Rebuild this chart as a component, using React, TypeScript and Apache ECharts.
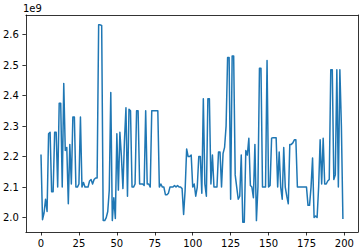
import React, { useEffect, useRef } from "react";
import * as echarts from "echarts";

// values in units of 1e9
const values: number[] = [
  2.207, 1.993, 2.015, 2.06, 2.02, 2.275, 2.28, 2.085, 2.085, 2.28,
  2.28, 2.10, 2.375, 2.375, 2.10, 2.44, 2.22, 2.23, 2.045, 2.24,
  2.11, 2.33, 2.33, 2.10, 2.10, 2.11, 2.33, 2.10, 2.115, 2.10,
  2.10, 2.10, 2.12, 2.125, 2.11, 2.125, 2.13, 2.13, 2.632, 2.632,
  2.63, 1.99, 1.99, 2.0, 2.02, 2.09, 2.41, 1.99, 2.065, 1.997,
  2.275, 2.09, 2.28, 2.20, 2.095, 2.25, 2.36, 2.07, 2.355, 2.35,
  2.10, 2.10, 2.11, 2.35, 2.35, 2.11, 2.11, 2.11, 2.105, 2.35,
  2.11, 2.11, 2.10, 2.35, 2.35, 2.35, 2.35, 2.35, 2.10, 2.11,
  2.10, 2.10, 2.075, 2.075, 2.08, 2.10, 2.10, 2.10, 2.105, 2.10,
  2.105, 2.10, 2.10, 2.095, 2.01, 2.09, 2.225, 2.20, 2.20, 2.205,
  2.10, 2.11, 2.07, 2.10, 2.20, 2.20, 2.08, 2.39, 2.11, 2.07,
  2.39, 2.39, 2.11, 2.205, 2.10, 2.10, 2.10, 2.215, 2.215, 2.10,
  2.21, 2.23, 2.30, 2.525, 2.525, 2.06, 2.53, 2.53, 2.14, 2.10,
  2.06, 2.07, 2.205, 1.985, 1.985, 2.22, 2.205, 2.26, 2.105, 2.10,
  2.065, 2.24, 1.99, 2.10, 2.49, 2.49, 2.10, 2.10, 2.10, 2.515,
  2.10, 2.105, 2.26, 2.262, 2.262, 2.262, 2.10, 2.215, 2.10, 2.06,
  2.23, 2.10, 2.07, 2.045, 2.24, 2.24, 2.245, 2.255, 2.255, 2.10,
  2.10, 2.10, 2.10, 2.10, 2.10, 2.10, 2.04, 2.04, 2.10, 2.195,
  2.00, 2.005, 2.00, 2.10, 2.255, 2.11, 2.26, 2.11, 2.11, 2.12,
  2.125, 2.485, 2.485, 2.125, 2.14, 2.485, 2.10, 2.485, 2.30, 1.995,
];

const xTicks: number[] = [0, 25, 50, 75, 100, 125, 150, 175, 200];
const yTicks: number[] = [2.0, 2.1, 2.2, 2.3, 2.4, 2.5, 2.6];
const offsetLabel = "1e9";

export default function App() {
  const ref = useRef<HTMLDivElement>(null);
  useEffect(() => {
    if (!ref.current) return;
    const chart = echarts.init(ref.current, undefined, { renderer: "svg" });
    const n = values.length;
    const xmin = 0, xmax = n - 1;
    const xpad = (xmax - xmin) * 0.05;
    const ymin = Math.min(...values), ymax = Math.max(...values);
    const ypad = (ymax - ymin) * 0.05;
    const font = "DejaVu Sans";
    const spine = { show: true, onZero: false, lineStyle: { color: "#000", width: 0.8 } };
    const frameAxis = {
      type: "value",
      axisLine: spine,
      axisTick: { show: false },
      axisLabel: { show: false },
      splitLine: { show: false },
    };
    chart.setOption({
      animation: false,
      grid: { left: 23, right: 4, top: 15, bottom: 20 },
      graphic: [
        {
          type: "text",
          left: 23,
          top: 3,
          style: { text: offsetLabel, fill: "#000", font: `10px "${font}"` },
        },
      ],
      xAxis: [
        {
          type: "value",
          position: "bottom",
          min: xmin - xpad,
          max: xmax + xpad,
          axisLine: spine,
          splitLine: { show: false },
          axisTick: {
            show: true,
            inside: false,
            length: 3.5,
            lineStyle: { color: "#000", width: 0.8 },
            customValues: xTicks,
          },
          axisLabel: {
            margin: 6,
            color: "#000",
            fontSize: 10,
            fontFamily: font,
            customValues: xTicks,
            formatter: (v: number) => String(Math.round(v)),
          },
        },
        { ...frameAxis, position: "top", min: xmin - xpad, max: xmax + xpad },
      ],
      yAxis: [
        {
          type: "value",
          position: "left",
          min: ymin - ypad,
          max: ymax + ypad,
          axisLine: spine,
          splitLine: { show: false },
          axisTick: {
            show: true,
            inside: false,
            length: 3.5,
            lineStyle: { color: "#000", width: 0.8 },
            customValues: yTicks,
          },
          axisLabel: {
            margin: 7,
            color: "#000",
            fontSize: 10,
            fontFamily: font,
            customValues: yTicks,
            formatter: (v: number) => v.toFixed(1),
          },
        },
        { ...frameAxis, position: "right", min: ymin - ypad, max: ymax + ypad },
      ],
      series: [
        {
          type: "line",
          xAxisIndex: 0,
          yAxisIndex: 0,
          data: values.map((v, i) => [i, v]),
          showSymbol: false,
          symbol: "none",
          lineStyle: { color: "#1f77b4", width: 1.5, join: "round" },
        },
      ],
    });
    return () => chart.dispose();
  }, []);
  return (
    <div
      ref={ref}
      style={{ position: "absolute", left: 0, top: 0, width: 362, height: 252, background: "#fff" }}
    />
  );
}
